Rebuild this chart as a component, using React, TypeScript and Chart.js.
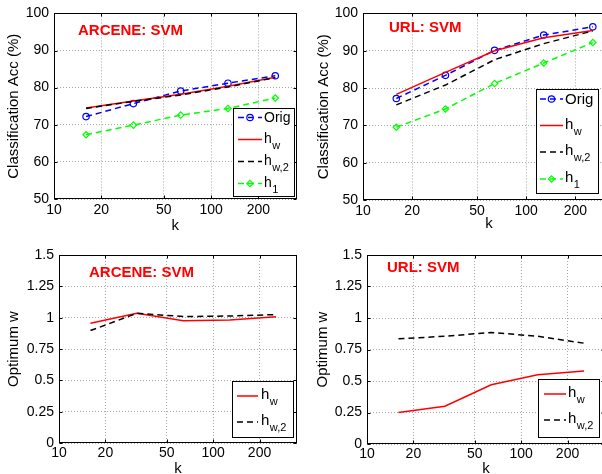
import React, { useEffect, useRef } from "react";
import { Chart, registerables } from "chart.js";
Chart.register(...registerables);

const FONT = '"Liberation Sans", Arial, Helvetica, sans-serif';

// ---- data ----
const kValues = [16, 32, 64, 128, 256];
const xTickValues = [10, 20, 50, 100, 200];
const accTickValues = [50, 60, 70, 80, 90, 100];
const wTickValues = [0, 0.25, 0.5, 0.75, 1, 1.25, 1.5];

const arceneOrig = [72.2, 75.7, 79.1, 81.2, 83.2];
const arceneHw = [74.5, 76.4, 78.2, 80.4, 82.8];
const arceneHw2 = [74.4, 76.3, 78.0, 80.2, 82.7];
const arceneH1 = [67.3, 69.9, 72.6, 74.4, 77.2];

const urlOrig = [77.2, 83.4, 90.1, 94.2, 96.4];
const urlHw = [78.3, 84.2, 90.0, 93.5, 95.4];
const urlHw2 = [75.5, 80.8, 87.6, 91.9, 95.3];
const urlH1 = [69.5, 74.4, 81.2, 86.7, 92.2];

const arceneWHw = [0.955, 1.035, 0.975, 0.982, 1.008];
const arceneWHw2 = [0.897, 1.035, 1.009, 1.013, 1.025];
const urlWHw = [0.25, 0.3, 0.47, 0.55, 0.58];
const urlWHw2 = [0.835, 0.855, 0.885, 0.855, 0.8];

// ---- styles ----
const BLUE = "#0000ff";
const RED = "#ff0000";
const BLACK = "#000000";
const GREEN = "#00ff00";
const DASH = [6, 4];
const GRID = "#a8a8a8";

type Series = { label: string; sub?: string; data: number[]; color: string; dash: number[]; marker?: string };

const sOrig = (d: number[]): Series => ({ label: "Orig", data: d, color: BLUE, dash: DASH, marker: "circle" });
const sHw = (d: number[]): Series => ({ label: "h", sub: "w", data: d, color: RED, dash: [] });
const sHw2 = (d: number[]): Series => ({ label: "h", sub: "w,2", data: d, color: BLACK, dash: DASH });
const sH1 = (d: number[]): Series => ({ label: "h", sub: "1", data: d, color: GREEN, dash: DASH, marker: "rectRot" });

const panels = [
  {
    x0: 0, y0: 0, w: 301, h: 250, plot: { l: 54, t: 12, r: 297, b: 199 },
    ylabel: "Classification Acc (%)", ymin: 50, ymax: 100, yticks: accTickValues,
    yTitlePad: 5, xTitlePad: 15, xTickPad: 3,
    title: "ARCENE: SVM", titleX: 78, titleY: 30.5,
    legend: { box: [233, 108, 294, 196], rows: [117.5, 139.5, 161.5, 183.5], line: [238, 262], text: 264, font: 14 },
    series: [sOrig(arceneOrig), sHw(arceneHw), sHw2(arceneHw2), sH1(arceneH1)],
  },
  {
    x0: 301, y0: 0, w: 320, h: 250, plot: { l: 62, t: 12, r: 314, b: 200 },
    ylabel: "Classification Acc (%)", ymin: 50, ymax: 100, yticks: accTickValues,
    yTitlePad: 13.5, xTitlePad: 17, xTickPad: 3,
    title: "URL: SVM", titleX: 88, titleY: 28,
    legend: { box: [235, 89, 297, 193], rows: [99, 125.5, 152, 179], line: [239, 262], text: 264, font: 15 },
    series: [sOrig(urlOrig), sHw(urlHw), sHw2(urlHw2), sH1(urlH1)],
  },
  {
    x0: 0, y0: 237, w: 301, h: 250, plot: { l: 59, t: 18, r: 297, b: 206 },
    ylabel: "Optimum w", ymin: 0, ymax: 1.5, yticks: wTickValues,
    yTitlePad: 5, xTitlePad: 9, xTickPad: 2,
    title: "ARCENE: SVM", titleX: 89, titleY: 36,
    legend: { box: [232, 144, 293, 200], rows: [159, 185], line: [237, 258], text: 261, font: 15 },
    series: [sHw(arceneWHw), sHw2(arceneWHw2)],
  },
  {
    x0: 301, y0: 237, w: 320, h: 250, plot: { l: 66, t: 18, r: 304, b: 207 },
    ylabel: "Optimum w", ymin: 0, ymax: 1.5, yticks: wTickValues,
    yTitlePad: 12.5, xTitlePad: 9, xTickPad: 1.5,
    title: "URL: SVM", titleX: 86, titleY: 30.5,
    legend: { box: [237, 142, 298, 200], rows: [157, 183], line: [243, 265], text: 267, font: 15 },
    series: [sHw(urlWHw), sHw2(urlWHw2)],
  },
];

type Panel = (typeof panels)[number];

function drawMarker(ctx: CanvasRenderingContext2D, style: string, x: number, y: number, r: number) {
  ctx.beginPath();
  if (style === "rectRot") {
    ctx.moveTo(x, y - r);
    ctx.lineTo(x + r, y);
    ctx.lineTo(x, y + r);
    ctx.lineTo(x - r, y);
    ctx.closePath();
  } else {
    ctx.arc(x, y, r, 0, Math.PI * 2);
  }
  ctx.stroke();
}

function PanelChart({ cfg }: { cfg: Panel }) {
  const ref = useRef<HTMLCanvasElement>(null);
  useEffect(() => {
    const canvas = ref.current!;
    const framePlugin = {
      id: "frame",
      afterDraw(chart: any) {
        const { ctx, chartArea: a } = chart;
        const xs = chart.scales.x;
        const ys = chart.scales.y;
        ctx.save();
        ctx.setLineDash([]);
        ctx.strokeStyle = "#000";
        ctx.lineWidth = 1;
        const L = Math.round(a.left) + 0.5;
        const R = Math.round(a.right) - 0.5;
        const T = Math.round(a.top) + 0.5;
        const B = Math.round(a.bottom) - 0.5;
        ctx.strokeRect(L, T, R - L, B - T);
        ctx.beginPath();
        for (const v of xTickValues) {
          const px = Math.round(xs.getPixelForValue(v)) + 0.5;
          ctx.moveTo(px, B); ctx.lineTo(px, B - 3);
          ctx.moveTo(px, T); ctx.lineTo(px, T + 3);
        }
        for (const v of cfg.yticks) {
          const py = Math.round(ys.getPixelForValue(v)) + 0.5;
          ctx.moveTo(L, py); ctx.lineTo(L + 3, py);
          ctx.moveTo(R, py); ctx.lineTo(R - 3, py);
        }
        ctx.stroke();

        // in-axes title
        ctx.fillStyle = RED;
        ctx.font = `bold 15px ${FONT}`;
        ctx.textAlign = "left";
        ctx.textBaseline = "middle";
        ctx.fillText(cfg.title, cfg.titleX, cfg.titleY);

        // legend
        const lg = cfg.legend;
        const [bx1, by1, bx2, by2] = lg.box;
        ctx.fillStyle = "#fff";
        ctx.fillRect(bx1, by1, bx2 - bx1, by2 - by1);
        ctx.strokeStyle = "#000";
        ctx.lineWidth = 1;
        ctx.strokeRect(bx1 + 0.5, by1 + 0.5, bx2 - bx1, by2 - by1);
        cfg.series.forEach((s, i) => {
          const y = lg.rows[i];
          ctx.strokeStyle = s.color;
          ctx.lineWidth = 1.5;
          ctx.setLineDash(s.dash);
          ctx.beginPath();
          ctx.moveTo(lg.line[0], y);
          ctx.lineTo(lg.line[1], y);
          ctx.stroke();
          ctx.setLineDash([]);
          if (s.marker) {
            ctx.lineWidth = 1.2;
            drawMarker(ctx, s.marker, (lg.line[0] + lg.line[1]) / 2, y, 3.2);
          }
          ctx.fillStyle = "#000";
          ctx.textAlign = "left";
          if (s.sub) {
            ctx.font = `${lg.font}px ${FONT}`;
            ctx.textBaseline = "alphabetic";
            ctx.fillText(s.label, lg.text, y + 3);
            const wdt = ctx.measureText(s.label).width;
            ctx.font = `${Math.round(lg.font * 0.75)}px ${FONT}`;
            ctx.fillText(s.sub, lg.text + wdt + 0.5, y + 9);
          } else {
            ctx.font = `${lg.font}px ${FONT}`;
            ctx.textBaseline = "middle";
            ctx.fillText(s.label, lg.text, y + 1);
          }
        });
        ctx.restore();
      },
    };

    const n = cfg.series.length;
    const chart = new Chart(canvas, {
      type: "line",
      data: {
        datasets: cfg.series.map((s, i) => ({
          label: s.sub ? `${s.label}_${s.sub}` : s.label,
          data: kValues.map((k, j) => ({ x: k, y: s.data[j] })),
          borderColor: s.color,
          backgroundColor: s.color,
          borderWidth: 1.5,
          borderDash: s.dash,
          pointStyle: (s.marker || "circle") as any,
          pointRadius: s.marker ? 3.2 : 0,
          pointHoverRadius: 0,
          pointBorderColor: s.color,
          pointBackgroundColor: "rgba(255,255,255,0)",
          pointBorderWidth: 1.2,
          fill: false,
          tension: 0,
          order: n - i,
        })),
      },
      options: {
        animation: false,
        responsive: false,
        maintainAspectRatio: false,
        events: [],
        layout: { padding: { left: 0, top: cfg.plot.t, right: cfg.w - cfg.plot.r, bottom: 0 } },
        plugins: { legend: { display: false }, tooltip: { enabled: false } },
        scales: {
          x: {
            type: "logarithmic",
            min: 10,
            max: 350,
            afterBuildTicks: (s: any) => { s.ticks = xTickValues.map((v) => ({ value: v })); },
            afterFit: (s: any) => { s.height = cfg.h - cfg.plot.b; },
            ticks: {
              callback: (v: any) => String(v),
              autoSkip: false,
              maxRotation: 0,
              padding: cfg.xTickPad,
              color: "#000",
              font: { family: FONT, size: 14 },
            },
            grid: { color: GRID, drawTicks: false, lineWidth: 1 },
            border: { display: false, dash: [1, 2] },
            title: { display: true, text: "k", color: "#000", font: { family: FONT, size: 15 }, padding: { top: 0, bottom: cfg.xTitlePad } },
          },
          y: {
            type: "linear",
            min: cfg.ymin,
            max: cfg.ymax,
            afterBuildTicks: (s: any) => { s.ticks = cfg.yticks.map((v) => ({ value: v })); },
            afterFit: (s: any) => { s.width = cfg.plot.l; },
            ticks: {
              callback: (v: any) => String(v),
              autoSkip: false,
              padding: 5,
              color: "#000",
              font: { family: FONT, size: 14 },
            },
            grid: { color: GRID, drawTicks: false, lineWidth: 1 },
            border: { display: false, dash: [1, 2] },
            title: { display: true, text: cfg.ylabel, color: "#000", font: { family: FONT, size: 15 }, padding: { top: cfg.yTitlePad, bottom: 0 } },
          },
        },
      } as any,
      plugins: [framePlugin],
    });
    return () => chart.destroy();
  }, [cfg]);
  return (
    <canvas
      ref={ref}
      width={cfg.w}
      height={cfg.h}
      style={{ position: "absolute", left: cfg.x0, top: cfg.y0, width: cfg.w, height: cfg.h }}
    />
  );
}

export default function App() {
  return (
    <div style={{ position: "absolute", left: 0, top: 0, width: 602, height: 474, overflow: "hidden", background: "#fff" }}>
      {panels.map((p, i) => (
        <PanelChart key={i} cfg={p} />
      ))}
    </div>
  );
}
